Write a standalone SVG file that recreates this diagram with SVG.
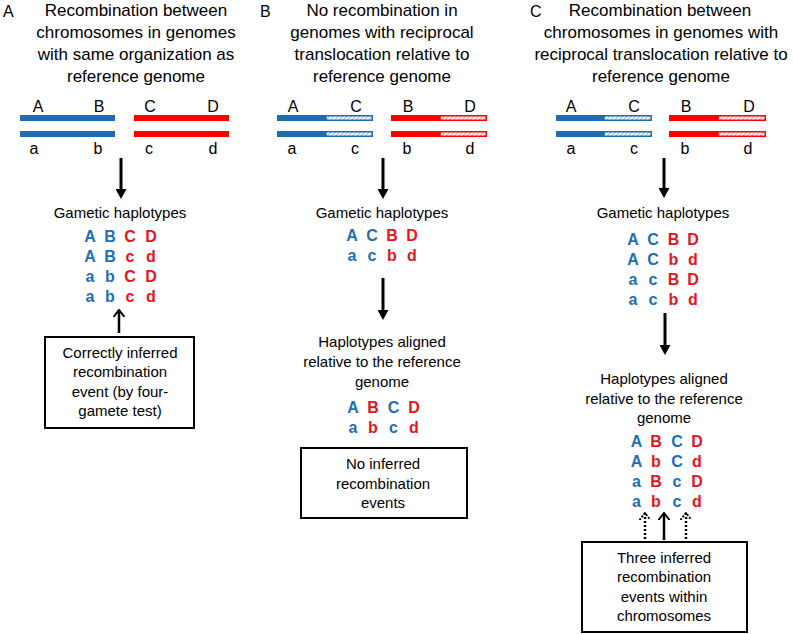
<svg xmlns="http://www.w3.org/2000/svg" width="793" height="634" viewBox="0 0 793 634">
<defs>
<style>
text{font-family:"Liberation Sans",Arial,sans-serif;text-anchor:middle;fill:#000}
.ttl{font-size:17px}
.pl{font-size:16px;text-anchor:start}
.cap{font-size:15px}
.lab{font-size:16px}
.h{font-size:16px;font-weight:bold}
.b{fill:#1f6fb5}
.r{fill:#e8141c}
.barB{fill:#1c6db6}
.barR{fill:#ff0000}
.hB{fill:url(#hatchB);stroke:#1c6db6;stroke-width:1.5}
.hR{fill:url(#hatchR);stroke:#ff0000;stroke-width:1.5}
.box{fill:#fff;stroke:#000;stroke-width:2}
.down{stroke:#000;stroke-width:3;fill:none;marker-end:url(#tri)}
.up{stroke:#000;stroke-width:2.5;fill:none;marker-end:url(#chev)}
.upd{stroke:#000;stroke-width:2.5;fill:none;stroke-dasharray:2 2;marker-end:url(#chevd)}
</style>
<pattern id="hatchB" width="3" height="3" patternUnits="userSpaceOnUse" patternTransform="rotate(45)"><rect width="3" height="3" fill="#fff"/><rect width="1" height="3" fill="#8fbbe3"/></pattern>
<pattern id="hatchR" width="3" height="3" patternUnits="userSpaceOnUse" patternTransform="rotate(45)"><rect width="3" height="3" fill="#fff"/><rect width="1" height="3" fill="#f59a9a"/></pattern>
<marker id="tri" viewBox="0 0 10 11" refX="0" refY="5.5" markerWidth="10" markerHeight="11" markerUnits="userSpaceOnUse" orient="auto"><path d="M0,0 L10,5.5 L0,11 Z" fill="#000"/></marker>
<marker id="chev" viewBox="0 0 8 12" refX="7" refY="6" markerWidth="8" markerHeight="12" markerUnits="userSpaceOnUse" orient="auto"><path d="M0,0.5 L7,6 L0,11.5" fill="none" stroke="#000" stroke-width="2"/></marker>
<marker id="chevd" viewBox="0 0 8 12" refX="7" refY="6" markerWidth="8" markerHeight="12" markerUnits="userSpaceOnUse" orient="auto"><path d="M0,0.5 L7,6 L0,11.5" fill="none" stroke="#000" stroke-width="2" stroke-dasharray="2 1.5"/></marker>
</defs>
<rect width="793" height="634" fill="#fff"/>

<!-- Panel A -->
<g id="panelA-title">
<text class="pl" x="3" y="17">A</text>
<text class="ttl" x="136" y="16">Recombination between</text>
<text class="ttl" x="136" y="38">chromosomes in genomes</text>
<text class="ttl" x="136" y="60">with same organization as</text>
<text class="ttl" x="136" y="82">reference genome</text>
</g>
<g id="panelA-chromosomes">
<rect class="barB" x="20" y="115" width="95" height="6"/>
<rect class="barB" x="20" y="131" width="95" height="6"/>
<rect class="barR" x="134" y="115" width="95" height="6"/>
<rect class="barR" x="134" y="131" width="95" height="6"/>
<text class="lab" x="38" y="112">A</text><text class="lab" x="99" y="112">B</text><text class="lab" x="150" y="112">C</text><text class="lab" x="213" y="112">D</text>
<text class="lab" x="34" y="154">a</text><text class="lab" x="98" y="154">b</text><text class="lab" x="149" y="154">c</text><text class="lab" x="213" y="154">d</text>
</g>
<g id="panelA-gametic">
<text class="cap" x="120" y="218">Gametic haplotypes</text>
<text class="h b" x="90" y="242">A</text><text class="h b" x="110" y="242">B</text><text class="h r" x="130" y="242">C</text><text class="h r" x="151" y="242">D</text>
<text class="h b" x="90" y="262">A</text><text class="h b" x="110" y="262">B</text><text class="h r" x="130" y="262">c</text><text class="h r" x="151" y="262">d</text>
<text class="h b" x="90" y="282">a</text><text class="h b" x="110" y="282">b</text><text class="h r" x="130" y="282">C</text><text class="h r" x="151" y="282">D</text>
<text class="h b" x="90" y="302">a</text><text class="h b" x="110" y="302">b</text><text class="h r" x="130" y="302">c</text><text class="h r" x="151" y="302">d</text>
</g>
<g id="panelA-box">
<rect class="box" x="45" y="337" width="149" height="91"/>
<text class="cap" x="120" y="358">Correctly inferred</text>
<text class="cap" x="120" y="377">recombination</text>
<text class="cap" x="120" y="397">event (by four-</text>
<text class="cap" x="120" y="416">gamete test)</text>
</g>

<!-- Panel B -->
<g id="panelB-title">
<text class="pl" x="260" y="17">B</text>
<text class="ttl" x="382" y="16">No recombination in</text>
<text class="ttl" x="382" y="38">genomes with reciprocal</text>
<text class="ttl" x="382" y="60">translocation relative to</text>
<text class="ttl" x="382" y="82">reference genome</text>
</g>
<g id="panelB-chromosomes">
<rect class="barB" x="277" y="115" width="49" height="6"/>
<rect class="hB" x="326" y="115.75" width="46.25" height="4.5"/>
<rect class="barB" x="277" y="131" width="49" height="6"/>
<rect class="hB" x="326" y="131.75" width="46.25" height="4.5"/>
<rect class="barR" x="391" y="115" width="49" height="6"/>
<rect class="hR" x="440" y="115.75" width="46.25" height="4.5"/>
<rect class="barR" x="391" y="131" width="49" height="6"/>
<rect class="hR" x="440" y="131.75" width="46.25" height="4.5"/>
<text class="lab" x="293" y="112">A</text><text class="lab" x="356" y="112">C</text><text class="lab" x="408" y="112">B</text><text class="lab" x="470" y="112">D</text>
<text class="lab" x="292" y="154">a</text><text class="lab" x="355" y="154">c</text><text class="lab" x="407" y="154">b</text><text class="lab" x="470" y="154">d</text>
</g>
<g id="panelB-gametic">
<text class="cap" x="382" y="218">Gametic haplotypes</text>
<text class="h b" x="352" y="241">A</text><text class="h b" x="372" y="241">C</text><text class="h r" x="392" y="241">B</text><text class="h r" x="412" y="241">D</text>
<text class="h b" x="352" y="261">a</text><text class="h b" x="372" y="261">c</text><text class="h r" x="392" y="261">b</text><text class="h r" x="412" y="261">d</text>
</g>
<g id="panelB-aligned">
<text class="cap" x="382" y="347">Haplotypes aligned</text>
<text class="cap" x="382" y="367">relative to the reference</text>
<text class="cap" x="382" y="387">genome</text>
<text class="h b" x="353" y="413">A</text><text class="h r" x="373" y="413">B</text><text class="h b" x="393.5" y="413">C</text><text class="h r" x="414" y="413">D</text>
<text class="h b" x="353" y="433">a</text><text class="h r" x="373" y="433">b</text><text class="h b" x="393.5" y="433">c</text><text class="h r" x="414" y="433">d</text>
</g>
<g id="panelB-box">
<rect class="box" x="301" y="448" width="166" height="70"/>
<text class="cap" x="383" y="469">No inferred</text>
<text class="cap" x="383" y="489">recombination</text>
<text class="cap" x="383" y="508">events</text>
</g>

<!-- Panel C -->
<g id="panelC-title">
<text class="pl" x="530" y="17">C</text>
<text class="ttl" x="660" y="16">Recombination between</text>
<text class="ttl" x="661" y="38">chromosomes in genomes with</text>
<text class="ttl" x="661" y="60">reciprocal translocation relative to</text>
<text class="ttl" x="661" y="82">reference genome</text>
</g>
<g id="panelC-chromosomes">
<rect class="barB" x="556" y="115" width="48" height="6"/>
<rect class="hB" x="604" y="115.75" width="47.25" height="4.5"/>
<rect class="barB" x="556" y="131" width="48" height="6"/>
<rect class="hB" x="604" y="131.75" width="47.25" height="4.5"/>
<rect class="barR" x="669" y="115" width="49" height="6"/>
<rect class="hR" x="718" y="115.75" width="47.25" height="4.5"/>
<rect class="barR" x="669" y="131" width="49" height="6"/>
<rect class="hR" x="718" y="131.75" width="47.25" height="4.5"/>
<text class="lab" x="571" y="112">A</text><text class="lab" x="634" y="112">C</text><text class="lab" x="686" y="112">B</text><text class="lab" x="749" y="112">D</text>
<text class="lab" x="571" y="154">a</text><text class="lab" x="634" y="154">c</text><text class="lab" x="685" y="154">b</text><text class="lab" x="748" y="154">d</text>
</g>
<g id="panelC-gametic">
<text class="cap" x="663" y="218">Gametic haplotypes</text>
<text class="h b" x="633" y="245">A</text><text class="h b" x="653" y="245">C</text><text class="h r" x="673.5" y="245">B</text><text class="h r" x="693" y="245">D</text>
<text class="h b" x="633" y="265">A</text><text class="h b" x="653" y="265">C</text><text class="h r" x="673.5" y="265">b</text><text class="h r" x="693" y="265">d</text>
<text class="h b" x="633" y="285">a</text><text class="h b" x="653" y="285">c</text><text class="h r" x="673.5" y="285">B</text><text class="h r" x="693" y="285">D</text>
<text class="h b" x="633" y="305">a</text><text class="h b" x="653" y="305">c</text><text class="h r" x="673.5" y="305">b</text><text class="h r" x="693" y="305">d</text>
</g>
<g id="panelC-aligned">
<text class="cap" x="664" y="384">Haplotypes aligned</text>
<text class="cap" x="664" y="404">relative to the reference</text>
<text class="cap" x="664" y="423">genome</text>
<text class="h b" x="636.5" y="447">A</text><text class="h r" x="656" y="447">B</text><text class="h b" x="677" y="447">C</text><text class="h r" x="697" y="447">D</text>
<text class="h b" x="636.5" y="467">A</text><text class="h r" x="656" y="467">b</text><text class="h b" x="677" y="467">C</text><text class="h r" x="697" y="467">d</text>
<text class="h b" x="636.5" y="487">a</text><text class="h r" x="656" y="487">B</text><text class="h b" x="677" y="487">c</text><text class="h r" x="697" y="487">D</text>
<text class="h b" x="636.5" y="507">a</text><text class="h r" x="656" y="507">b</text><text class="h b" x="677" y="507">c</text><text class="h r" x="697" y="507">d</text>
</g>
<g id="panelC-box">
<rect class="box" x="582" y="542" width="165" height="90"/>
<text class="cap" x="664" y="563">Three inferred</text>
<text class="cap" x="664" y="582">recombination</text>
<text class="cap" x="664" y="602">events within</text>
<text class="cap" x="664" y="621">chromosomes</text>
</g>

<g id="connectors">
<line class="down" x1="121" y1="158" x2="121" y2="189"/>
<line class="up" x1="119" y1="333" x2="119" y2="310"/>
<line class="down" x1="383" y1="158" x2="383" y2="189"/>
<line class="down" x1="383" y1="278" x2="383" y2="310"/>
<line class="down" x1="664" y1="158" x2="664" y2="188"/>
<line class="down" x1="665" y1="313" x2="665" y2="345"/>
<line class="upd" x1="645" y1="539" x2="645" y2="513"/>
<line class="up" x1="664" y1="540" x2="664" y2="513"/>
<line class="upd" x1="686" y1="539" x2="686" y2="513"/>
</g>
</svg>
